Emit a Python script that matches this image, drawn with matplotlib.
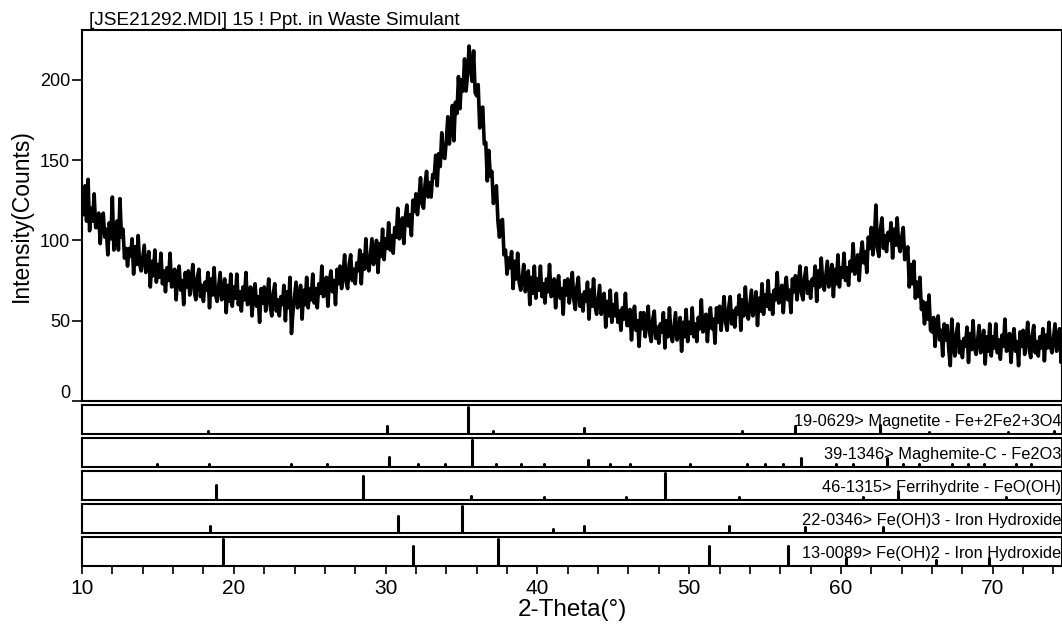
import matplotlib
matplotlib.use("Agg")
import matplotlib.pyplot as plt
import matplotlib.transforms as mtransforms
import numpy as np

plt.rcParams['font.family'] = ['Liberation Sans', 'DejaVu Sans']

# ---------------- data ----------------
title = "[JSE21292.MDI] 15 ! Ppt. in Waste Simulant"
x_start, x_step = 10.0, 0.1
intensity = [
    124, 116, 134, 112, 138, 106, 120, 112, 129, 108,   # 10
    108, 117, 98, 112, 117, 102, 107, 91, 111, 101,     # 11
    127, 94, 102, 112, 94, 126, 102, 107, 89, 95,       # 12
    84, 95, 90, 101, 79, 96, 85, 103, 85, 81,           # 13
    89, 97, 80, 84, 93, 71, 87, 78, 94, 74,             # 14
    85, 77, 92, 73, 81, 68, 83, 75, 92, 71,             # 15
    72, 82, 63, 78, 84, 69, 75, 60, 80, 71,             # 16
    81, 66, 75, 85, 68, 63, 77, 82, 65, 72,             # 17
    62, 74, 69, 80, 58, 76, 66, 83, 66, 62,             # 18
    71, 80, 63, 67, 76, 55, 72, 62, 79, 59,             # 19
    71, 64, 79, 60, 68, 56, 71, 63, 80, 60,             # 20
    61, 71, 53, 67, 73, 59, 65, 49, 70, 61,             # 21
    71, 56, 65, 76, 59, 53, 67, 73, 56, 63,             # 22
    53, 65, 60, 72, 50, 68, 58, 77, 42, 56,             # 23
    65, 74, 58, 63, 72, 51, 69, 60, 77, 58,             # 24
    70, 63, 79, 61, 70, 58, 73, 67, 84, 65,             # 25
    66, 77, 59, 75, 81, 68, 75, 60, 82, 73,             # 26
    84, 70, 79, 91, 74, 70, 85, 91, 75, 82,             # 27
    73, 86, 81, 94, 73, 91, 82, 101, 84, 81,            # 28
    91, 101, 85, 90, 100, 80, 98, 90, 107, 88,          # 29
    101, 95, 111, 94, 103, 92, 108, 102, 120, 101,      # 30
    103, 114, 98, 114, 122, 109, 116, 103, 125, 118,    # 31
    129, 116, 126, 139, 123, 120, 135, 143, 127, 136,   # 32
    127, 141, 139, 153, 134, 154, 146, 167, 152, 151,   # 33
    162, 177, 160, 170, 184, 162, 186, 179, 202, 182,   # 34
    200, 193, 213, 193, 203, 221, 208, 199, 218, 192,   # 35
    190, 197, 170, 182, 183, 160, 161, 137, 156, 140,   # 36
    143, 123, 128, 134, 112, 102, 112, 113, 91, 94,     # 37
    79, 89, 83, 93, 70, 87, 76, 92, 74, 69,             # 38
    76, 85, 68, 72, 81, 60, 77, 67, 84, 64,             # 39
    76, 69, 84, 65, 73, 61, 76, 68, 85, 65,             # 40
    66, 76, 58, 72, 78, 64, 70, 54, 75, 66,             # 41
    76, 61, 69, 80, 63, 57, 71, 77, 59, 66,             # 42
    56, 68, 62, 74, 51, 69, 59, 76, 59, 54,             # 43
    63, 72, 54, 59, 67, 46, 62, 53, 69, 49,             # 44
    60, 53, 67, 49, 56, 44, 58, 51, 67, 47,             # 45
    47, 57, 38, 53, 59, 44, 50, 34, 55, 45,             # 46
    55, 40, 49, 59, 42, 37, 51, 56, 39, 46,             # 47
    36, 48, 43, 55, 33, 50, 40, 58, 41, 37,             # 48
    46, 55, 38, 43, 52, 31, 49, 40, 57, 37,             # 49
    49, 42, 58, 40, 48, 37, 52, 45, 63, 43,             # 50
    44, 54, 37, 52, 58, 45, 51, 36, 58, 49,             # 51
    59, 44, 54, 65, 49, 44, 58, 65, 48, 56,             # 52
    46, 58, 54, 66, 44, 63, 53, 71, 55, 51,             # 53
    60, 69, 53, 58, 68, 47, 64, 56, 73, 54,             # 54
    66, 59, 75, 57, 66, 54, 69, 63, 80, 61,             # 55
    62, 72, 55, 70, 77, 63, 69, 55, 76, 68,             # 56
    78, 63, 73, 84, 67, 63, 77, 83, 67, 74,             # 57
    64, 76, 72, 84, 62, 81, 71, 89, 73, 69,             # 58
    78, 87, 71, 76, 85, 65, 82, 73, 91, 71,             # 59
    83, 77, 92, 75, 83, 72, 87, 81, 98, 79,             # 60
    80, 91, 75, 91, 99, 86, 93, 80, 102, 95,            # 61
    108, 91, 101, 122, 95, 90, 107, 114, 95, 103,       # 62
    93, 105, 100, 111, 89, 107, 97, 114, 97, 93,        # 63
    102, 108, 88, 90, 96, 71, 85, 73, 87, 64,           # 64
    74, 65, 77, 57, 62, 48, 61, 51, 66, 44,             # 65
    43, 52, 34, 48, 53, 38, 44, 28, 48, 38,             # 66
    47, 32, 22, 51, 34, 28, 42, 48, 30, 37,             # 67
    27, 39, 34, 46, 24, 42, 32, 50, 33, 29,             # 68
    38, 47, 30, 35, 44, 23, 40, 31, 48, 28,             # 69
    40, 33, 48, 30, 38, 26, 41, 34, 51, 31,             # 70
    32, 42, 24, 39, 45, 31, 37, 22, 43, 34,             # 71
    44, 29, 38, 49, 32, 27, 41, 47, 30, 37,             # 72
    28, 40, 33, 45, 25, 41, 33, 49, 34, 30,             # 73
    39, 48, 31, 36, 45, 24, 41,                         # 74
]

phase_labels = [
    "19-0629> Magnetite - Fe+2Fe2+3O4",
    "39-1346> Maghemite-C - Fe2O3",
    "46-1315> Ferrihydrite - FeO(OH)",
    "22-0346> Fe(OH)3 - Iron Hydroxide",
    "13-0089> Fe(OH)2 - Iron Hydroxide",
]
magnetite_pos = [18.27, 30.08, 35.45, 37.08, 43.10, 53.45, 57.00, 62.60, 65.80, 71.00, 74.05]
magnetite_int = [10, 30, 100, 10, 22, 10, 30, 35, 8, 8, 10]
maghemite_pos = [14.96, 18.37, 23.77, 26.12, 30.25, 32.16, 33.94, 35.66, 37.29, 38.90,
                 40.41, 43.33, 44.76, 46.10, 50.07, 53.78, 55.00, 56.20, 57.37, 59.65,
                 60.77, 63.03, 64.06, 65.16, 67.33, 68.39, 69.44, 71.50, 72.50]
maghemite_int = [10, 10, 10, 10, 38, 10, 10, 100, 10, 10,
                 10, 26, 10, 10, 10, 10, 10, 10, 32, 10,
                 10, 32, 10, 10, 10, 10, 10, 10, 10]
ferrihydrite_pos = [18.83, 28.49, 35.60, 40.45, 45.86, 48.43, 53.28, 61.43, 63.78, 70.90]
ferrihydrite_int = [55, 90, 14, 10, 10, 100, 10, 10, 32, 10]
feoh3_pos = [18.45, 30.80, 35.05, 41.05, 43.07, 52.60, 57.63, 62.80]
feoh3_int = [26, 65, 100, 16, 26, 26, 24, 24]
feoh2_pos = [19.31, 31.78, 37.43, 51.30, 56.52, 60.30, 66.26, 69.77]
feoh2_int = [100, 75, 100, 75, 75, 30, 24, 28]

stick_sets = [
    (magnetite_pos, magnetite_int),
    (maghemite_pos, maghemite_int),
    (ferrihydrite_pos, ferrihydrite_int),
    (feoh3_pos, feoh3_int),
    (feoh2_pos, feoh2_int),
]

x_min, x_max = 10.0, 74.56
y_max = 231
y_ticks = [0, 50, 100, 150, 200]
x_major = [10, 20, 30, 40, 50, 60, 70]

# ---------------- figure ----------------
W, H = 1062, 626
fig = plt.figure(figsize=(W / 100, H / 100), dpi=100)

def px_axes(left, top, right, bottom):
    return fig.add_axes([left / W, 1 - bottom / H, (right - left) / W, (bottom - top) / H])

spine_lw = 1.5
ax = px_axes(82, 30, 1062, 401)
two_theta = x_start + x_step * np.arange(len(intensity))
ax.plot(two_theta, intensity, color='black', lw=2.6, solid_joinstyle='round')
ax.set_xlim(x_min, x_max)
ax.set_ylim(0, y_max)
ax.set_xticks([])
ax.set_yticks(y_ticks)
ax.set_yticklabels([str(v) for v in y_ticks])
ax.tick_params(axis='y', length=7, width=1.2, labelsize=13, pad=1.5, direction='out')
for s in ax.spines.values():
    s.set_linewidth(spine_lw)
ax.set_ylabel("Intensity(Counts)", fontsize=16.5, labelpad=5)
ax.text(89 / W, 1 - 25 / H, title, transform=fig.transFigure, fontsize=13.7,
        ha='left', va='baseline')
# lift the "0" label a little as in the reference
lbl0 = ax.get_yticklabels()[0]
lbl0.set_transform(lbl0.get_transform() + mtransforms.ScaledTranslation(0, 9 / 100, fig.dpi_scale_trans))

tops = [405, 438, 471, 504, 537]
panel_h = 29
for i, ((pos, ints), label) in enumerate(zip(stick_sets, phase_labels)):
    pax = px_axes(82, tops[i], 1062, tops[i] + panel_h)
    pax.set_xlim(x_min, x_max)
    pax.set_ylim(0, 108)
    pax.vlines(pos, 0, ints, color='black', lw=2.2, capstyle='round')
    for s in pax.spines.values():
        s.set_linewidth(spine_lw)
    pax.set_yticks([])
    pax.text(0.999, 0.27, label, transform=pax.transAxes, ha='right', va='baseline',
             fontsize=11.8)
    if i < 4:
        pax.set_xticks([])
    else:
        pax.set_xticks(x_major)
        pax.set_xticks(np.arange(12, 75, 2), minor=True)
        pax.tick_params(axis='x', which='both', length=6, width=1.2, direction='out',
                        labelsize=15, pad=3)
        pax.set_xlabel("2-Theta(°)", fontsize=17.5, labelpad=1)

fig.savefig("out.png", dpi=100)
